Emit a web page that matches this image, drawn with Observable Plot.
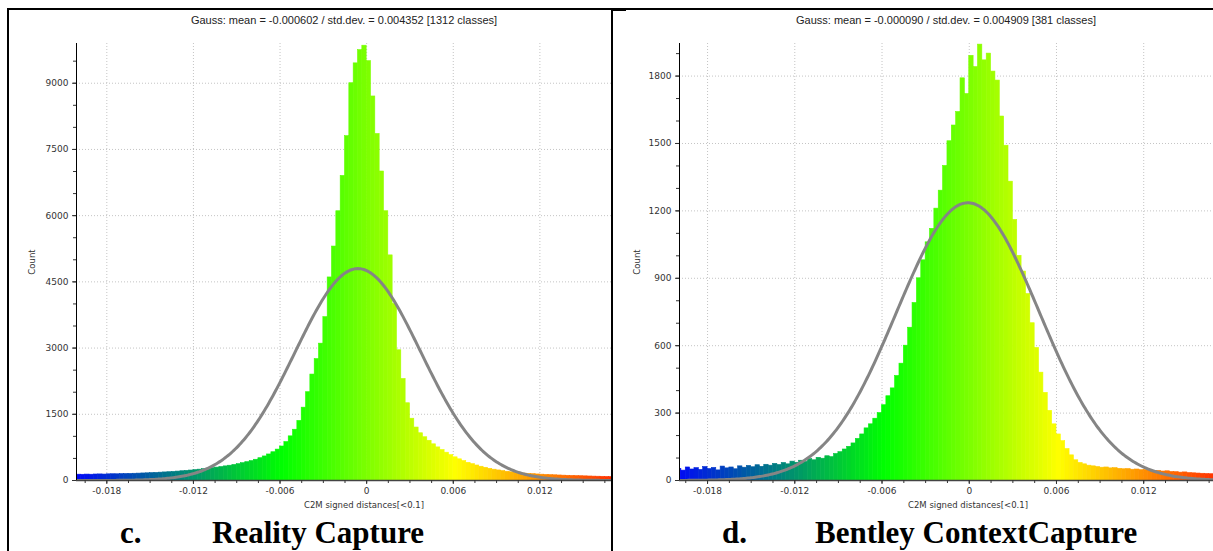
<!DOCTYPE html>
<html><head><meta charset="utf-8">
<script src="https://cdn.jsdelivr.net/npm/d3@7"></script>
<script src="https://cdn.jsdelivr.net/npm/@observablehq/plot@0.6"></script>
<style>
html,body{margin:0;padding:0;background:#fff;}
#page{position:relative;width:1213px;height:551px;overflow:hidden;background:#fff;}
.abs{position:absolute;}
.title{font:11px "Liberation Sans",Arial,sans-serif;color:#222;white-space:nowrap;transform:translate(-50%,-50%);}
.xlab{font:8.5px "DejaVu Sans",sans-serif;color:#333;white-space:nowrap;transform:translate(-50%,-50%);}
.ylab{font:8.5px "DejaVu Sans",sans-serif;color:#333;white-space:nowrap;transform:translate(-50%,-50%) rotate(-90deg);}
.cap{font:bold 31px "Liberation Serif","Times New Roman",serif;color:#000;white-space:nowrap;line-height:31px;}
.line{position:absolute;background:#000;}
</style></head><body><div id="page"></div>
<script>
// ---------- data ----------
const titles = [
  "Gauss: mean = -0.000602 / std.dev. = 0.004352 [1312 classes]",
  "Gauss: mean = -0.000090 / std.dev. = 0.004909 [381 classes]"
];
const captionLetters = ["c.", "d."];
const captionNames = ["Reality Capture", "Bentley ContextCapture"];
const xAxisLabel = "C2M signed distances[<0.1]";
const yAxisLabel = "Count";

const xTicks = [-0.018, -0.012, -0.006, 0, 0.006, 0.012];
const leftYTicks = [0, 1500, 3000, 4500, 6000, 7500, 9000];
const rightYTicks = [0, 300, 600, 900, 1200, 1500, 1800];

// Gaussian fits (mean, std.dev. from titles; peak height)
const gaussMean = [-0.000602, -0.000090];
const gaussStd = [0.004352, 0.004909];
const gaussPeak = [4800, 1236];

// Histogram: Reality Capture (bin start, bin width, counts)
const leftBinStart = -0.0204;
const leftBinWidth = 0.0003;
const leftCounts = [
  128,132,130,134,131,136,138,135,140,142,
  141,146,148,150,153,156,160,163,168,172,
  178,183,188,195,202,210,218,226,236,246,
  257,268,280,292,305,320,335,352,370,392,
  415,440,470,505,545,590,640,700,770,870,
  1000,1150,1350,1650,2000,2400,2750,3100,3700,4600,
  5300,6100,6900,7800,9000,9450,9750,9850,9500,8700,
  7850,7000,6100,5100,4000,2950,2300,1750,1400,1200,
  1070,980,900,820,750,690,630,575,525,480,
  440,400,370,340,312,288,265,245,228,212,
  198,186,175,165,157,150,143,137,132,127,
  122,118,114,110,107,104,100,97,94,91,
  88,86,84,81,79
];

// Histogram: Bentley ContextCapture
const rightBinStart = -0.0201;
const rightBinWidth = 0.0003;
const rightCounts = [
  52,44,58,49,55,47,60,51,56,45,
  62,54,58,50,63,57,65,59,68,61,
  70,66,74,69,78,72,84,79,88,83,
  95,90,101,97,108,104,118,126,138,150,
  165,185,205,232,250,275,300,335,375,410,
  465,520,600,680,790,900,980,1060,1120,1210,
  1290,1400,1510,1580,1640,1790,1720,1890,1840,1940,
  1870,1900,1820,1780,1620,1490,1330,1160,1000,930,
  830,700,590,480,390,310,250,205,175,140,
  112,90,78,72,66,63,60,57,58,54,
  55,52,50,51,48,49,46,47,44,42,
  43,40,41,38,37,35,36,33,32,31,
  30,29,28
];

// colour ramp (blue > green > yellow > red)
const colorStops = [-0.0205, -0.0058, 0.0062, 0.0195];
const colorRange = ["#0000ff", "#00ff00", "#ffff00", "#ff0000"];

// ---------- layout ----------
const page = document.getElementById("page");
function addDiv(cls, text, css) {
  const d = document.createElement("div");
  d.className = cls;
  if (text != null) d.textContent = text;
  Object.assign(d.style, css);
  page.appendChild(d);
  return d;
}

const panels = [
  {left: 0, width: 612, marginLeft: 76, xDomain: [-0.0201, 0.01703], yMax: 9900,
   yTicks: leftYTicks, yMinor: d3.range(0, 9901, 500),
   binStart: leftBinStart, binWidth: leftBinWidth, counts: leftCounts,
   titleX: 344, countX: 32, xlabX: 364, capLetterX: 120, capNameX: 212},
  {left: 612, width: 601, marginLeft: 67, xDomain: [-0.01993, 0.0168], yMax: 1945,
   yTicks: rightYTicks, yMinor: d3.range(0, 1946, 100),
   binStart: rightBinStart, binWidth: rightBinWidth, counts: rightCounts,
   titleX: 946, countX: 637, xlabX: 968, capLetterX: 722, capNameX: 815}
];

const xMinor = d3.range(-0.0195, 0.0171, 0.0015);
const fmtX = d => d === 0 ? "0" : d.toFixed(3);

panels.forEach((p, i) => {
  const bins = p.counts.map((c, k) => {
    const x1 = p.binStart + k * p.binWidth;
    return {x1, x2: x1 + p.binWidth, c: x1 + p.binWidth / 2, count: c};
  });
  const gauss = d3.range(p.xDomain[0], p.xDomain[1] + 0.00005, 0.0001).map(x => ({
    x, y: gaussPeak[i] * Math.exp(-0.5 * ((x - gaussMean[i]) / gaussStd[i]) ** 2)
  }));
  const chart = Plot.plot({
    width: p.width, height: 510,
    marginLeft: p.marginLeft, marginRight: 0, marginTop: 43, marginBottom: 30,
    style: {fontFamily: "'DejaVu Sans', sans-serif", fontSize: "9px", color: "#333", background: "transparent"},
    x: {domain: p.xDomain, label: null},
    y: {domain: [0, p.yMax], label: null},
    color: {type: "linear", domain: colorStops, range: colorRange, interpolate: "rgb"},
    marks: [
      Plot.gridX(xTicks, {stroke: "#c4c4c4", strokeOpacity: 1, strokeDasharray: "1,2"}),
      Plot.gridY(p.yTicks, {stroke: "#c4c4c4", strokeOpacity: 1, strokeDasharray: "1,2"}),
      Plot.rectY(bins, {x1: "x1", x2: "x2", y: "count", fill: "c", stroke: "c", strokeWidth: 0.6, clip: true}),
      Plot.line(gauss, {x: "x", y: "y", stroke: "#858585", strokeWidth: 3, clip: true}),
      Plot.ruleY([0], {stroke: "#444", strokeWidth: 1.5}),
      Plot.ruleX([p.xDomain[0]], {stroke: "#000", strokeWidth: 1}),
      Plot.axisX(xMinor, {tickSize: 3, tickFormat: () => "", stroke: "#333"}),
      Plot.axisX(xTicks, {tickSize: 4, tickPadding: 3, tickFormat: fmtX, stroke: "#333"}),
      Plot.axisY(p.yMinor, {tickSize: 3, tickFormat: () => "", stroke: "#333"}),
      Plot.axisY(p.yTicks, {tickSize: 4, tickPadding: 4, tickFormat: d => String(d), stroke: "#333"})
    ]
  });
  chart.style.position = "absolute";
  chart.style.left = p.left + "px";
  chart.style.top = "0px";
  page.appendChild(chart);

  addDiv("abs title", titles[i], {left: p.titleX + "px", top: "20px"});
  addDiv("abs ylab", yAxisLabel, {left: p.countX + "px", top: "262px"});
  addDiv("abs xlab", xAxisLabel, {left: p.xlabX + "px", top: "505px"});
  addDiv("abs cap", captionLetters[i], {left: p.capLetterX + "px", top: "517px"});
  addDiv("abs cap", captionNames[i], {left: p.capNameX + "px", top: "517px"});
});

// table border lines
addDiv("line", null, {left: "7px", top: "8px", width: "1206px", height: "2px"});
addDiv("line", null, {left: "7px", top: "8px", width: "2px", height: "543px"});
addDiv("line", null, {left: "611px", top: "8px", width: "2px", height: "543px"});
addDiv("line", null, {left: "611px", top: "9px", width: "15px", height: "2px"});
</script></body></html>
